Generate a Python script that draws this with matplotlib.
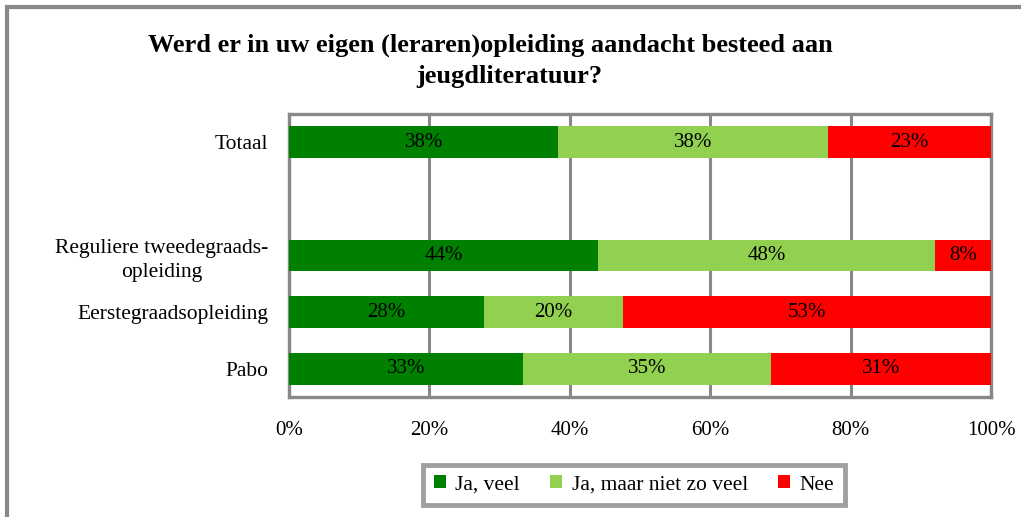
import numpy as np
import matplotlib.pyplot as plt
from matplotlib.patches import Rectangle

# categories from bottom to top, blank row keeps the gap under "Totaal"
categories = ["Pabo", "Eerstegraadsopleiding", "Reguliere tweedegraads-\nopleiding", "", "Totaal"]
series = ["Ja, veel", "Ja, maar niet zo veel", "Nee"]
ja_veel = [33, 28, 44, 0, 38]
ja_niet_zo_veel = [35, 20, 48, 0, 38]
nee = [31, 53, 8, 0, 23]
colors = ["#008000", "#92D050", "#FF0000"]
xticks = [0, 20, 40, 60, 80, 100]

plt.rcParams["font.family"] = ["Liberation Serif", "DejaVu Serif"]

fig = plt.figure(figsize=(10.21, 5.17), dpi=100)
ax = fig.add_axes([289 / 1021, 1 - 397 / 517, (991 - 289) / 1021, (397 - 114) / 517])

values = np.array([ja_veel, ja_niet_zo_veel, nee], dtype=float)
totals = values.sum(axis=0)
totals[totals == 0] = 1
shares = values / totals * 100

y = np.arange(len(categories))
left = np.zeros(len(categories))
for i, name in enumerate(series):
    bars = ax.barh(y, shares[i], left=left, height=0.56, color=colors[i],
                   label=name, zorder=3)
    for j, b in enumerate(bars):
        if values[i, j] > 0:
            ax.text(left[j] + shares[i, j] / 2, y[j], f"{int(values[i, j])}%",
                    ha="center", va="center", fontsize=15, zorder=4)
    left += shares[i]

ax.set_xlim(0, 100)
ax.set_ylim(-0.5, len(categories) - 0.5)
ax.set_xticks(xticks)
ax.set_xticklabels([f"{t}%" for t in xticks], fontsize=15)
ax.set_yticks(y)
ax.set_yticklabels(categories, fontsize=15.5, multialignment="center",
                   linespacing=1.35)
ax.tick_params(axis="both", length=0)
ax.tick_params(axis="x", pad=17)
ax.tick_params(axis="y", pad=15)
ax.set_axisbelow(True)
ax.grid(axis="x", color="#888888", linewidth=2.2)
for s in ax.spines.values():
    s.set_color("#888888")
    s.set_linewidth(2.4)

fig.text(490 / 1021, 1 - 45 / 517, "Werd er in uw eigen (leraren)opleiding aandacht besteed aan",
         ha="center", va="center", fontsize=19, fontweight="bold")
fig.text(509 / 1021, 1 - 77 / 517, "jeugdliteratuur?",
         ha="center", va="center", fontsize=19, fontweight="bold")

leg = fig.legend(loc="center", bbox_to_anchor=(634 / 1021, 1 - 485 / 517), ncol=3,
                 fontsize=15.5, frameon=True, fancybox=False, handlelength=0.55,
                 handleheight=0.55, handletextpad=0.45, columnspacing=1.4,
                 borderpad=0.5, borderaxespad=0)
leg.get_frame().set_edgecolor("#888888")
leg.get_frame().set_linewidth(3.5)

# outer chart border (only top and left visible in the crop)
fig.patches.append(Rectangle((7 / 1021, -0.1), 1.2, 1 - 7 / 517 + 0.1,
                             transform=fig.transFigure, fill=False,
                             edgecolor="#888888", linewidth=3))

fig.savefig("out.png", dpi=100)
